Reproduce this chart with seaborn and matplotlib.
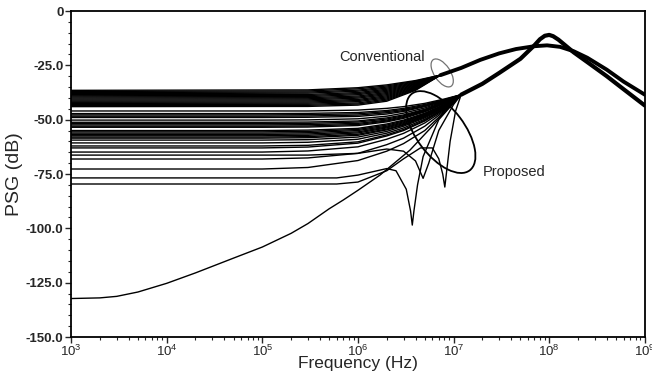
import pandas as pd

import matplotlib
matplotlib.use("Agg")
import matplotlib.pyplot as plt
from matplotlib.patches import Ellipse
from matplotlib.ticker import FixedLocator, MultipleLocator
from matplotlib.transforms import ScaledTranslation
import seaborn as sns

# conventional curves: own points, then the shared tail
conv_f = [1e3, 3e5, 1e6, 2e6, 4e6]
conv_db = [
    [-36.5, -36.3, -35.3, -34.0, -32.0],
    [-37.0, -36.8, -35.8, -34.5, -32.3],
    [-37.5, -37.3, -36.4, -35.0, -32.6],
    [-38.0, -37.8, -36.9, -35.5, -32.9],
    [-38.5, -38.4, -37.5, -36.0, -33.2],
    [-39.0, -38.9, -38.0, -36.5, -33.5],
    [-39.5, -39.4, -38.5, -37.0, -33.8],
    [-40.0, -39.9, -39.1, -37.5, -34.1],
    [-40.5, -40.4, -39.6, -38.0, -34.4],
    [-41.0, -40.9, -40.1, -38.5, -34.7],
    [-41.5, -41.4, -40.7, -39.0, -35.0],
    [-42.0, -41.9, -41.2, -39.5, -35.3],
    [-42.5, -42.4, -41.7, -40.0, -35.6],
    [-43.0, -42.9, -42.3, -40.5, -35.9],
    [-43.5, -43.4, -42.8, -41.0, -36.2],
    [-44.0, -43.9, -43.3, -41.5, -36.5],
]
conv_tail_f = [7.3e6, 1.2e7, 1.9e7, 3e7, 4.5e7, 7e7, 9.5e7, 1.3e8, 1.8e8, 2.5e8, 4e8, 6e8, 1e9]
conv_tail_db = [-29.5, -26.2, -22.5, -19.5, -17.5, -16.2, -15.8, -16.5, -18.5, -21.5, -27.0, -32.5, -38.5]

# proposed curves
prop_f = [1e3, 1e5, 3e5, 1e6, 2e6, 3e6, 5e6, 8e6]
prop_db = [
    [-46.0, -46.0, -46.0, -45.6, -44.8, -44.0, -42.5, -40.5],
    [-47.2, -47.2, -47.1, -46.7, -45.8, -44.8, -43.0, -40.8],
    [-47.8, -47.8, -47.7, -47.3, -46.3, -45.3, -43.4, -41.0],
    [-48.4, -48.4, -48.3, -47.9, -46.8, -45.8, -43.7, -41.2],
    [-49.0, -49.0, -48.9, -48.5, -47.4, -46.2, -44.0, -41.4],
    [-50.2, -50.2, -50.1, -49.6, -48.4, -47.0, -44.6, -41.6],
    [-51.2, -51.2, -51.1, -50.6, -49.2, -47.8, -45.2, -41.8],
    [-51.8, -51.8, -51.7, -51.1, -49.7, -48.2, -45.5, -42.0],
    [-52.4, -52.4, -52.3, -51.7, -50.2, -48.6, -45.8, -42.2],
    [-53.0, -53.0, -52.9, -52.2, -50.6, -49.0, -46.1, -42.4],
    [-53.5, -53.5, -53.4, -52.7, -51.0, -49.4, -46.4, -42.6],
    [-55.0, -55.0, -54.8, -54.0, -52.0, -50.2, -47.0, -43.0],
    [-55.6, -55.6, -55.4, -54.5, -52.5, -50.6, -47.3, -43.2],
    [-56.2, -56.2, -56.0, -55.0, -53.0, -51.0, -47.6, -43.4],
    [-56.8, -56.8, -56.6, -55.6, -53.4, -51.4, -47.9, -43.6],
    [-57.4, -57.4, -57.2, -56.1, -53.8, -51.8, -48.2, -43.8],
    [-58.0, -58.0, -57.8, -56.7, -54.3, -52.2, -48.5, -44.0],
    [-58.5, -58.5, -58.3, -57.2, -54.7, -52.5, -48.8, -44.2],
    [-59.4, -59.4, -59.2, -58.0, -55.4, -53.0, -49.2, -44.4],
    [-60.7, -60.7, -60.4, -59.0, -56.2, -53.8, -49.8, -44.7],
    [-62.1, -62.1, -61.8, -60.2, -57.0, -54.5, -50.3, -45.0],
    [-63.0, -63.0, -62.6, -60.8, -57.5, -55.0, -50.6, -45.2],
    [-64.9, -64.9, -64.4, -62.5, -59.0, -56.3, -51.5, -45.6],
    [-68.1, -68.1, -67.6, -65.5, -61.5, -58.5, -53.0, -46.0],
    [-72.7, -72.7, -72.0, -68.8, -64.5, -61.0, -55.0, -46.5],
]
prop_tail_f = [1.2e7, 2e7, 3e7, 5e7, 7e7, 8e7, 9e7, 1e8, 1.1e8, 1.25e8, 1.4e8, 1.8e8, 2.5e8, 4e8, 6e8, 1e9]
prop_tail_db = [-38.5, -33.5, -28.5, -22.0, -15.8, -13.0, -11.4, -11.0, -11.6, -13.2, -15.0, -19.0, -23.5, -30.0, -36.0, -43.5]

# proposed curves with notches, and the lowest curve
dip_f = [1e3, 3e5, 1e6, 2e6, 3e6, 4e6, 4.8e6, 5.5e6, 7e6, 1e7]
dip_db = [-66.3, -66.3, -65.5, -63.5, -64.5, -69.0, -77.0, -70.0, -55.0, -43.0]
notch1_f = [1e3, 6e5, 1e6, 2e6, 2.5e6, 3.2e6, 3.55e6, 3.7e6, 3.85e6, 4.2e6, 4.8e6, 7e6]
notch1_db = [-76.8, -76.8, -75.5, -72.5, -73.5, -82.0, -92.0, -98.5, -92.0, -80.0, -67.0, -50.0]
notch2_f = [1e3, 6e5, 1e6, 2e6, 3e6, 4.5e6, 6e6, 7e6, 7.7e6, 8.1e6, 8.5e6, 9.2e6, 1.05e7]
notch2_db = [-79.6, -79.6, -78.7, -73.5, -68.0, -63.0, -63.0, -68.0, -75.0, -81.0, -73.0, -60.0, -46.0]
low_f = [1e3, 2e3, 3e3, 5e3, 1e4, 2e4, 5e4, 1e5, 2e5, 3e5, 5e5, 7e5, 1e6, 1.7e6, 3.5e6, 6e6, 9e6]
low_db = [-132.3, -132.0, -131.3, -129.3, -125.3, -120.5, -113.7, -108.6, -102.3, -97.8, -91.0, -87.0, -82.5, -75.5, -64.0, -53.0, -44.0]

y_ticks = [0, -25, -50, -75, -100, -125, -150]
y_labels = ["0", "-25.0", "-50.0", "-75.0", "-100.0", "-125.0", "-150.0"]

frames = []
n = 0
for vals in conv_db:
    frames.append(pd.DataFrame({"f": conv_f + conv_tail_f, "db": vals + conv_tail_db, "curve": n}))
    n += 1
for vals in prop_db:
    frames.append(pd.DataFrame({"f": prop_f + prop_tail_f, "db": vals + prop_tail_db, "curve": n}))
    n += 1
for fs, dbs in [(dip_f, dip_db), (notch1_f, notch1_db), (notch2_f, notch2_db), (low_f, low_db)]:
    frames.append(pd.DataFrame({"f": fs + prop_tail_f, "db": dbs + prop_tail_db, "curve": n}))
    n += 1
curves = pd.concat(frames, ignore_index=True)

sns.set_style("ticks")
plt.rcParams["font.family"] = ["Liberation Sans", "DejaVu Sans"]
plt.rcParams["mathtext.fontset"] = "custom"
plt.rcParams["mathtext.rm"] = "Liberation Sans"

fig = plt.figure(figsize=(6.52, 3.73), dpi=100)
ax = fig.add_axes([0.109, 0.0965, 0.880, 0.874])

sns.lineplot(data=curves, x="f", y="db", units="curve", estimator=None, sort=False,
             color="black", lw=1.0, ax=ax, legend=False)
# the merged bundles are thicker
sns.lineplot(x=conv_tail_f, y=conv_tail_db, sort=False, color="black", lw=2.8, ax=ax)
sns.lineplot(x=prop_tail_f, y=prop_tail_db, sort=False, color="black", lw=3.0, ax=ax)

ax.set_xscale("log")
ax.set_xlim(1e3, 1e9)
ax.set_ylim(-150, 0)
ax.yaxis.set_major_locator(FixedLocator(y_ticks))
ax.set_yticklabels(y_labels, fontsize=9.5, fontweight="bold")
ax.yaxis.set_minor_locator(MultipleLocator(5))
ax.tick_params(axis="x", labelsize=9.5, pad=1)
ax.tick_params(axis="y", pad=1.5)
ax.tick_params(which="major", direction="out", length=4, width=1)
ax.tick_params(which="minor", direction="out", length=2.5, width=0.8)
for side in ax.spines.values():
    side.set_linewidth(1.3)
    side.set_color("black")

ax.set_xlabel("Frequency (Hz)", fontsize=12.5, labelpad=-2)
ax.set_ylabel("PSG (dB)", fontsize=14, labelpad=2)


def ring(f, db, w, h, angle, **kw):
    tr = fig.dpi_scale_trans + ScaledTranslation(f, db, ax.transData)
    ax.add_patch(Ellipse((0, 0), w, h, angle=angle, transform=tr, fill=False, **kw))


ring(7.6e6, -28.5, 0.32, 0.16, -56, color="0.45", lw=0.9)
ring(7.35e6, -55.7, 0.96, 0.48, -53, color="black", lw=1.3)

ax.text(1.8e6, -21.2, "Conventional", fontsize=10.5, ha="center", va="center")
ax.text(2e7, -74.0, "Proposed", fontsize=10.5, ha="left", va="center")

fig.savefig("out.png", dpi=100)
